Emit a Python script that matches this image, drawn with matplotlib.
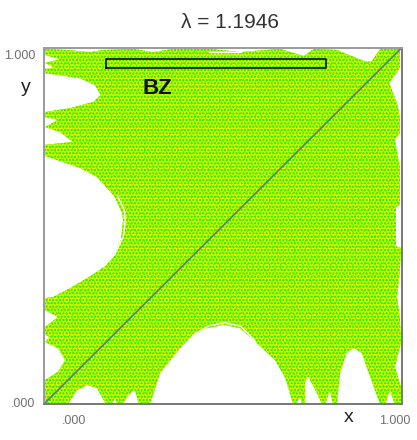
import matplotlib
matplotlib.use("Agg")
import matplotlib.pyplot as plt

plt.rcParams['font.family'] = ['Liberation Sans', 'DejaVu Sans']

# Outline of the filled region
edge_x = [.003, .064, .128, .165, .249, .304, .360, .464, .547, .659, .726, .754, .818, .894, .916, .939, .994,
          .994, .964, .986, .994, .994, .980, .994, .994, .983, .983, .986, .997, .994, .986, .994, .997, .980,
          .997, .997, .980, .966, .953, .939, .911, .888, .866, .846, .827, .818, .807, .799, .785, .777, .754,
          .737, .729, .729, .721, .715, .704, .696, .673, .645, .595, .547, .503, .455, .416, .380, .324, .296,
          .265, .254, .235, .221, .204, .198, .190, .173, .148, .120, .092, .067, .003, .003, .039, .059, .039,
          .003, .017, .003, .003, .039, .003, .003, .025, .073, .120, .156, .193, .215, .221, .218, .198, .148,
          .101, .003, .003, .081, .045, .003, .039, .003, .003, .073, .137, .159, .142, .101, .003, .003, .031,
          .003, .045, .003]
edge_y = [.996, .993, .987, .993, .996, .987, .996, .996, .987, .996, .976, .996, .993, .962, .962, .996, .999,
          .943, .900, .844, .805, .760, .741, .665, .558, .553, .446, .440, .438, .376, .300, .244, .171, .104,
          .048, 0, 0, .039, 0, 0, .076, .143, .157, .146, .087, 0, 0, .039, 0, 0, .048,
          .079, .059, 0, 0, .020, 0, 0, .076, .123, .171, .213, .222, .213, .194, .157, .087, 0,
          0, .039, .025, 0, 0, .017, 0, 0, .045, .053, .039, 0, 0, .067, .090, .123, .157,
          .174, .188, .194, .216, .244, .264, .297, .300, .325, .353, .376, .412, .460, .516, .536, .581, .637,
          .662, .696, .727, .735, .763, .777, .797, .805, .819, .830, .847, .867, .895, .914, .928, .940, .943,
          .957, .967, .979]

# White gaps that run just inside the big holes
gap_left_x = [.165, .198, .222, .227, .224, .205]
gap_left_y = [.384, .420, .470, .516, .545, .585]
gap_low_x = [.385, .420, .460, .505, .550, .590]
gap_low_y = [.152, .196, .219, .228, .218, .176]
gap_top_x = [.460, .550]
gap_top_y = [.988, .988]

diag_x = [0, 1]
diag_y = [0, 1]

box_x = [.173, .788, .788, .173, .173]
box_y = [.942, .942, .968, .968, .942]

fig = plt.figure(figsize=(4.17, 4.40), dpi=100)
ax = fig.add_axes([44 / 417, 36 / 440, 358 / 417, 356.5 / 440])
ax.set_xlim(0, 1)
ax.set_ylim(0, 1)

# green base, speckle comes from hatch layers of different spacing
ax.fill(edge_x, edge_y, facecolor='#58f000', edgecolor='none')
ax.fill(edge_x, edge_y, facecolor='none', edgecolor='#e8f800', hatch='OOO', linewidth=0)
ax.fill(edge_x, edge_y, facecolor='none', edgecolor='#c8f800', hatch='......', linewidth=0)
ax.fill(edge_x, edge_y, facecolor='none', edgecolor='#18e800', hatch='.....', linewidth=0)

ax.plot(gap_left_x, gap_left_y, color='white', lw=1)
ax.plot(gap_low_x, gap_low_y, color='white', lw=1)
ax.plot(gap_top_x, gap_top_y, color='white', lw=1)

ax.plot(diag_x, diag_y, color='#55807a', lw=1.2)
ax.plot(box_x, box_y, color='black', lw=1.1)

ax.text(.317, .885, 'BZ', fontsize=16, ha='center', va='center', color='#111111', fontweight='bold')
ax.text(.852, -.038, 'x', fontsize=14, ha='center', va='center', color='#222222', clip_on=False)
ax.text(-.05, .888, 'y', fontsize=14, ha='center', va='center', color='#222222', clip_on=False)

ax.set_xticks([.085, .98], ['.000', '1.000'])
ax.set_yticks([.005, .98], ['.000', '1.000'])
ax.tick_params(length=0, labelsize=9, labelcolor='#707070')
ax.tick_params(axis='x', pad=8)
ax.tick_params(axis='y', pad=6)

for side in ['left', 'top']:
    ax.spines[side].set_color('#9a9a9a')
for side in ['bottom', 'right']:
    ax.spines[side].set_color('#777777')
for side in ax.spines:
    ax.spines[side].set_linewidth(1.4)

ax.set_title('λ = 1.1946', fontsize=15, color='#333333', pad=14, x=.52)

plt.savefig('out.png', dpi=100)
